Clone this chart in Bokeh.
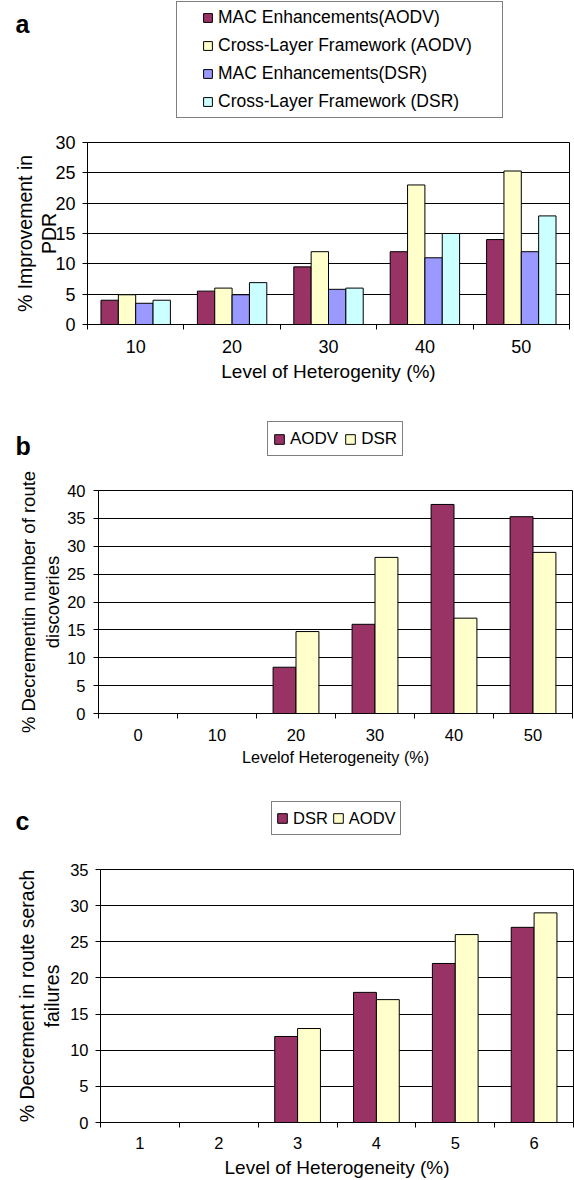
import numpy as np

from bokeh.embed import file_html
from bokeh.layouts import column
from bokeh.models import ColumnDataSource, FixedTicker, Label, Legend, LegendItem, Range1d
from bokeh.plotting import figure
from bokeh.resources import INLINE

FONT = "Liberation Sans"
MAROON, CREAM, LILAC, AQUA = "#993366", "#FFFFCC", "#9999FF", "#CCFFFF"
W = 574

# panel a: improvement in PDR
a_levels = ["10", "20", "30", "40", "50"]
a_names = ["MAC Enhancements(AODV)", "Cross-Layer Framework (AODV)",
           "MAC Enhancements(DSR)", "Cross-Layer Framework (DSR)"]
a_mac_aodv = [4, 5.5, 9.5, 12, 14]
a_cross_aodv = [4.9, 6, 12, 23, 25.3]
a_mac_dsr = [3.5, 4.9, 5.8, 11, 12]
a_cross_dsr = [4, 6.9, 6, 15, 17.9]

# panel b: decrement in number of route discoveries
b_levels = ["0", "10", "20", "30", "40", "50"]
b_names = ["AODV", "DSR"]
b_aodv = [0, 0, 8.3, 16, 37.5, 35.3]
b_dsr = [0, 0, 14.7, 28, 17.1, 28.9]

# panel c: decrement in route search failures
c_levels = ["1", "2", "3", "4", "5", "6"]
c_names = ["DSR", "AODV"]
c_dsr = [0, 0, 11.9, 18, 22, 27]
c_aodv = [0, 0, 13, 17, 26, 29]


def bar_figure(levels, series, colors, y_end, bar_width, height, borders, tick_size):
    left, right, top, bottom = borders
    n = len(levels)
    p = figure(width=W, height=height, output_backend="svg", toolbar_location=None, tools="",
               x_range=Range1d(-0.5, n - 0.5), y_range=Range1d(0, y_end),
               min_border_left=left, min_border_right=right,
               min_border_top=top, min_border_bottom=bottom, frame_align=False,
               background_fill_color="white", border_fill_color="white")
    pos = np.arange(n)
    sources = []
    for k, (vals, color) in enumerate(zip(series, colors)):
        offset = (k - (len(series) - 1) / 2) * bar_width
        src = ColumnDataSource(data=dict(x=pos + offset, top=vals))
        p.vbar(x="x", top="top", bottom=0, width=bar_width, source=src,
               fill_color=color, line_color="black", line_width=1)
        sources.append(src)

    p.xaxis.ticker = FixedTicker(ticks=list(range(n)), minor_ticks=[i - 0.5 for i in range(n + 1)])
    p.xaxis.major_label_overrides = {i: lab for i, lab in enumerate(levels)}
    p.xaxis.major_tick_out = 0
    p.xaxis.major_tick_in = 0
    p.xaxis.minor_tick_out = 5
    p.xaxis.minor_tick_in = 0
    p.xaxis.minor_tick_line_color = "black"

    p.yaxis.ticker = FixedTicker(ticks=list(range(0, y_end + 1, 5)))
    p.yaxis.major_tick_out = 5
    p.yaxis.major_tick_in = 0
    p.yaxis.minor_tick_line_color = None

    for ax in (p.xaxis, p.yaxis):
        ax.axis_line_color = "black"
        ax.major_tick_line_color = "black"
        ax.major_label_text_font = FONT
        ax.major_label_text_font_size = tick_size
        ax.major_label_text_color = "black"
        ax.axis_label_text_font = FONT
        ax.axis_label_text_font_style = "normal"
        ax.axis_label_text_color = "black"
        ax.axis_label_text_line_height = 1.13

    p.xgrid.grid_line_color = None
    p.ygrid.grid_line_color = "black"
    p.ygrid.grid_line_width = 1
    p.outline_line_color = "black"
    return p, sources


def header(height, letter, letter_xy, names, sources, colors, **legend_kw):
    # strip above each chart: panel letter and legend box; the hidden bars
    # only feed the legend swatches
    h = figure(width=W, height=height, output_backend="svg", toolbar_location=None, tools="",
               x_axis_location=None, y_axis_location=None, min_border=0, frame_align=False,
               outline_line_color=None, background_fill_color="white", border_fill_color="white")
    h.grid.visible = False
    rs = [h.vbar(x="x", top="top", bottom=0, width=0.2, source=s, fill_color=c,
                 line_color="black", line_width=1, visible=False)
          for s, c in zip(sources, colors)]
    h.add_layout(Legend(items=[LegendItem(label=n, renderers=[r]) for n, r in zip(names, rs)],
                        margin=0, label_text_font=FONT, label_text_color="black",
                        border_line_color="black", border_line_width=1,
                        background_fill_alpha=1, inactive_fill_alpha=0, **legend_kw))
    h.add_layout(Label(x=letter_xy[0], y=letter_xy[1], x_units="screen", y_units="screen",
                       text=letter, text_font=FONT, text_font_size="25px",
                       text_font_style="bold", text_baseline="alphabetic", text_color="black"))
    return h


# ---- a
a_colors = [MAROON, CREAM, LILAC, AQUA]
pa, sa = bar_figure(a_levels, [a_mac_aodv, a_cross_aodv, a_mac_dsr, a_cross_dsr],
                    a_colors, 30, 0.18, 265, (87, 5, 17, 66), "18px")
pa.xaxis.axis_label = "Level of Heterogenity (%)"
pa.xaxis.axis_label_text_font_size = "19px"
pa.xaxis.major_label_standoff = 10
pa.xaxis.axis_label_standoff = 5
pa.yaxis.axis_label = "% Improvement in\nPDR"
pa.yaxis.axis_label_text_font_size = "19.5px"
pa.yaxis.major_label_standoff = 7
pa.yaxis.axis_label_standoff = -8
ha = header(125, "a", (15, 102), a_names, sa, a_colors,
            location=(176, 7), orientation="vertical", padding=5, spacing=7,
            label_height=20, glyph_width=11, glyph_height=11, label_standoff=5,
            label_width=279, label_text_font_size="17.5px",
            title=" ", title_location="left", title_text_font_size="1px", title_standoff=19)

# ---- b
pb, sb = bar_figure(b_levels, [b_aodv, b_dsr], [MAROON, CREAM], 40, 0.29, 312,
                    (98, 2, 25, 64), "16.5px")
pb.xaxis.axis_label = "Levelof Heterogeneity (%)"
pb.xaxis.axis_label_text_font_size = "16.2px"
pb.xaxis.major_label_standoff = 10
pb.xaxis.axis_label_standoff = 4
pb.yaxis.axis_label = "% Decrementin number of route\ndiscoveries"
pb.yaxis.axis_label_text_font_size = "18.5px"
pb.yaxis.major_label_standoff = 8
pb.yaxis.axis_label_standoff = 1
hb = header(75, "b", (15, 20), b_names, sb, [MAROON, CREAM],
            location=(267, 9), orientation="horizontal", padding=5, spacing=6,
            label_height=23, glyph_width=12, glyph_height=12, label_standoff=5,
            label_text_font_size="17px")

# ---- c
pc, sc = bar_figure(c_levels, [c_dsr, c_aodv], [MAROON, CREAM], 35, 0.29, 330,
                    (100, 1, 19, 58), "16.5px")
pc.xaxis.axis_label = "Level of Heterogeneity (%)"
pc.xaxis.axis_label_text_font_size = "19px"
pc.xaxis.major_label_standoff = 9
pc.xaxis.axis_label_standoff = 5
pc.yaxis.axis_label = "% Decrement in route serach\nfailures"
pc.yaxis.axis_label_text_font_size = "19.5px"
pc.yaxis.major_label_standoff = 7
pc.yaxis.axis_label_standoff = 4
hc = header(73, "c", (15, 30), c_names, sc, [MAROON, CREAM],
            location=(271, 15), orientation="horizontal", padding=4, spacing=4,
            label_height=24, glyph_width=12, glyph_height=12, label_standoff=5,
            label_text_font_size="16.5px")

layout = column(ha, pa, hb, pb, hc, pc, spacing=0)
open("out.html", "w").write(file_html(layout, INLINE))
